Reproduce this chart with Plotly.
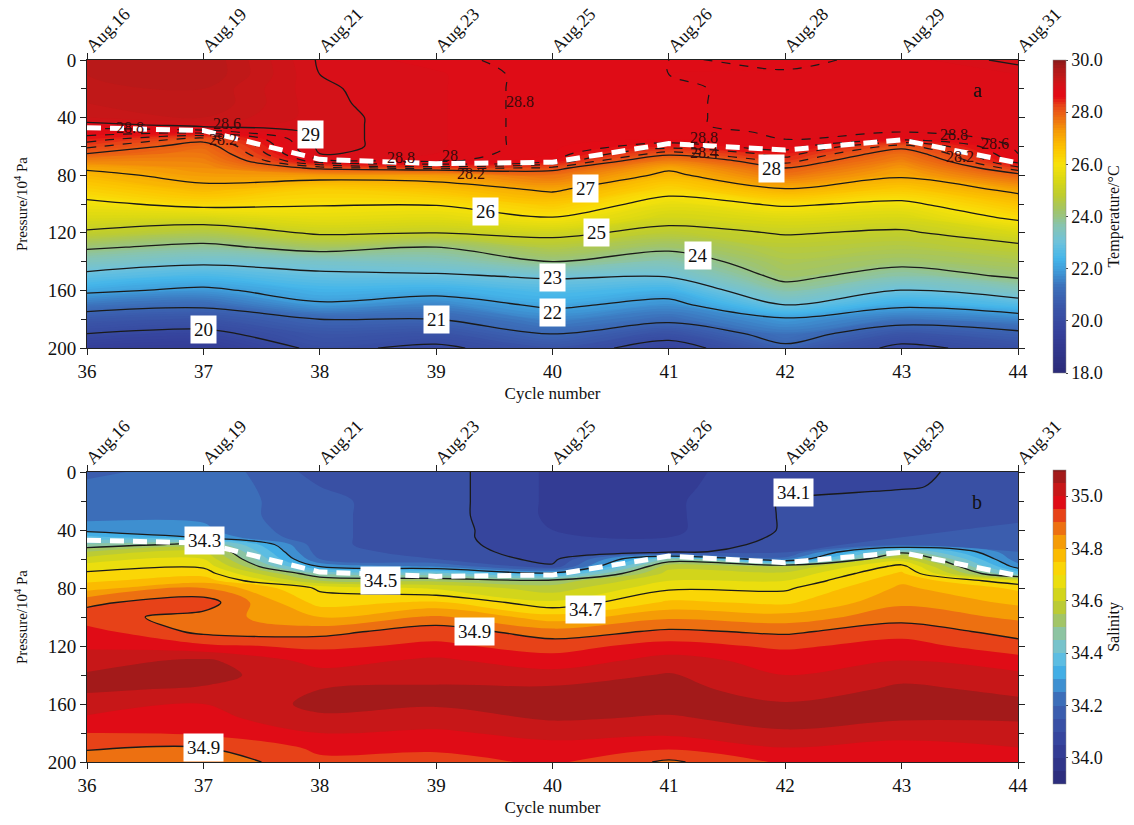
import plotly.graph_objects as go

# ---------------- data ----------------
cycles = [36, 37, 38, 39, 40, 41, 42, 43, 44]
dates = ["Aug.16", "Aug.19", "Aug.21", "Aug.23", "Aug.25", "Aug.26", "Aug.28", "Aug.29", "Aug.31"]
depths = [0, 10, 20, 30, 40, 45, 50, 55, 60, 65, 70, 75, 80,
          90, 100, 110, 120, 130, 140, 150, 160, 170, 180, 190, 200]

# temperature (deg C) profiles per cycle, one value per depth
t36 = [29.4, 29.4, 29.4, 29.3, 29.2, 28.9, 28.7, 28.5, 28.25, 28.0, 27.55, 27.1, 26.8,
       26.35, 25.85, 25.4, 24.9, 24.1, 23.45, 22.8, 22.15, 21.35, 20.6, 20.0, 19.4]
t37 = [29.5, 29.5, 29.4, 29.4, 29.3, 29.1, 28.7, 28.1, 27.85, 27.7, 27.55, 27.4, 27.25,
       26.8, 26.2, 25.35, 24.55, 23.8, 23.15, 22.5, 21.85, 21.15, 20.45, 19.8, 19.3]
t38 = [28.98, 29.0, 29.02, 29.03, 29.05, 29.05, 29.05, 29.05, 29.05, 29.0, 28.75, 28.1, 27.3,
       26.4, 26.05, 25.65, 25.1, 24.3, 23.3, 22.85, 22.35, 21.9, 21.0, 20.5, 20.15]
t39 = [28.85, 28.92, 28.92, 28.92, 28.92, 28.92, 28.92, 28.92, 28.92, 28.9, 28.85, 28.3, 27.3,
       26.65, 26.05, 25.55, 25.0, 24.0, 23.45, 22.9, 22.25, 21.6, 21.0, 20.4, 19.85]
t40 = [28.72, 28.72, 28.72, 28.72, 28.72, 28.72, 28.72, 28.72, 28.72, 28.7, 28.6, 28.15, 27.75,
       27.1, 26.5, 25.95, 25.2, 24.6, 24.0, 23.1, 22.6, 22.15, 21.6, 21.05, 20.45]
t41 = [28.8, 28.8, 28.79, 28.79, 28.79, 28.79, 28.75, 28.7, 28.5, 28.1, 27.6, 27.1, 26.85,
       26.25, 25.7, 25.25, 24.75, 24.15, 23.6, 23.05, 22.35, 21.75, 21.2, 20.35, 19.6]
t42 = [28.76, 28.82, 28.82, 28.82, 28.82, 28.82, 28.82, 28.8, 28.7, 28.5, 28.3, 28.0, 27.7,
       26.95, 26.1, 25.5, 25.05, 24.7, 24.45, 24.2, 23.7, 23.0, 21.9, 21.35, 20.85]
t43 = [28.85, 28.85, 28.85, 28.85, 28.85, 28.85, 28.8, 28.65, 28.1, 27.8, 27.55, 27.3, 27.1,
       26.5, 25.85, 25.35, 24.9, 24.55, 24.2, 23.65, 22.95, 22.15, 21.35, 20.5, 19.8]
t44 = [29.05, 28.9, 28.85, 28.85, 28.85, 28.85, 28.85, 28.85, 28.85, 28.8, 28.7, 28.35, 27.9,
       27.15, 26.6, 26.1, 25.4, 24.85, 24.45, 24.1, 23.45, 22.6, 21.6, 20.85, 20.3]

# salinity profiles per cycle
s36 = [34.18, 34.22, 34.22, 34.23, 34.28, 34.37, 34.46, 34.55, 34.62, 34.67, 34.71, 34.74, 34.78,
       34.89, 34.92, 34.97, 34.99, 35.03, 35.055, 35.055, 35.035, 34.99, 34.95, 34.91, 34.86]
s37 = [34.24, 34.24, 34.24, 34.24, 34.26, 34.29, 34.52, 34.6, 34.65, 34.69, 34.73, 34.78, 34.85,
       34.93, 34.88, 34.885, 34.96, 35.06, 35.065, 35.045, 35.0, 34.98, 34.96, 34.9, 34.86]
s38 = [34.13, 34.15, 34.16, 34.16, 34.16, 34.16, 34.16, 34.17, 34.2, 34.29, 34.45, 34.55, 34.69,
       34.73, 34.8, 34.88, 34.94, 34.98, 35.02, 35.05, 35.065, 35.04, 35.0, 34.96, 34.94]
s39 = [34.125, 34.125, 34.125, 34.125, 34.125, 34.125, 34.125, 34.13, 34.15, 34.24, 34.42, 34.54, 34.64,
       34.76, 34.86, 34.93, 34.96, 35.01, 35.04, 35.055, 35.055, 35.03, 34.99, 34.96, 34.93]
s40 = [34.04, 34.04, 34.04, 34.04, 34.05, 34.05, 34.06, 34.07, 34.08, 34.11, 34.32, 34.52, 34.57,
       34.66, 34.77, 34.87, 34.93, 34.97, 35.02, 35.06, 35.07, 35.055, 35.02, 34.98, 34.96]
s41 = [34.04, 34.04, 34.04, 34.04, 34.04, 34.05, 34.06, 34.08, 34.45, 34.58, 34.62, 34.65, 34.69,
       34.76, 34.84, 34.91, 34.97, 35.02, 35.055, 35.07, 35.065, 35.045, 35.01, 34.96, 34.89]
s42 = [34.07, 34.08, 34.105, 34.105, 34.105, 34.11, 34.12, 34.14, 34.22, 34.55, 34.61, 34.65, 34.69,
       34.74, 34.82, 34.89, 34.94, 34.98, 35.0, 35.02, 35.055, 35.065, 35.045, 35.0, 34.96]
s43 = [34.09, 34.095, 34.12, 34.13, 34.14, 34.15, 34.18, 34.48, 34.62, 34.72, 34.76, 34.79, 34.81,
       34.84, 34.88, 34.93, 34.97, 35.0, 35.035, 35.06, 35.065, 35.055, 35.02, 34.98, 34.95]
s44 = [34.12, 34.12, 34.13, 34.14, 34.16, 34.17, 34.18, 34.2, 34.22, 34.27, 34.38, 34.66, 34.74,
       34.79, 34.84, 34.88, 34.92, 34.97, 35.01, 35.04, 35.06, 35.055, 35.03, 35.0, 34.97]

# mixed layer depth (white dashed line)
mld = [47, 49, 69, 72, 71, 58, 62.5, 55.5, 71.5]

# boxed contour labels: (cycle, pressure, text)
t_box_labels = [(37.92, 52, "29"), (41.88, 75, "28"), (40.28, 89, "27"), (39.42, 105, "26"),
                (40.38, 120, "25"), (41.25, 136, "24"), (40.0, 151, "23"), (40.0, 175, "22"),
                (39.0, 180, "21"), (37.0, 187, "20")]
t_plain_labels = [(36.37, 47, "28.8"), (37.2, 44, "28.6"), (37.17, 55, "28.2"), (38.7, 68, "28.8"),
                  (39.72, 29, "28.8"), (39.12, 66, "28"), (39.3, 79, "28.2"), (41.3, 54, "28.8"),
                  (41.3, 64, "28.4"), (43.45, 52, "28.8"), (43.8, 58, "28.6"), (43.5, 67, "28.2")]
s_box_labels = [(37.01, 47, "34.3"), (38.52, 74.5, "34.5"), (40.28, 95, "34.7"),
                (39.33, 110, "34.9"), (37.0, 190, "34.9"), (42.07, 14, "34.1")]

# ---------------- styling ----------------
FONT = "Liberation Serif"
cscale_stops = [
    (18.0, "#2b2a78"), (19.5, "#35409a"), (20.5, "#3a55a8"), (21.3, "#3c70ba"),
    (21.9, "#3f9ad8"), (22.4, "#44b6ea"), (23.0, "#6ec2dc"), (23.6, "#86c4b4"),
    (24.2, "#a0c46c"), (24.8, "#bdcc30"), (25.4, "#d9d814"), (26.0, "#f8e20a"),
    (26.6, "#fcc400"), (27.2, "#f6a005"), (27.7, "#ee7410"), (28.2, "#e84a18"),
    (28.6, "#e30a14"), (28.9, "#dc0e18"), (29.3, "#c41818"), (29.7, "#a81a1a"),
    (30.0, "#8c1a1a")]
cscale = [[(v - 18.0) / 12.0, c] for v, c in cscale_stops]

temp = [list(r) for r in zip(t36, t37, t38, t39, t40, t41, t42, t43, t44)]
sal = [list(r) for r in zip(s36, s37, s38, s39, s40, s41, s42, s43, s44)]

fig = go.Figure()

# --- temperature panel ---
fig.add_trace(go.Contour(
    x=cycles, y=depths, z=temp, xaxis="x", yaxis="y",
    zmin=18, zmax=30, zauto=False, colorscale=cscale,
    contours=dict(coloring="fill", start=18, end=30, size=0.1, showlines=False),
    line=dict(width=0), hoverinfo="skip",
    colorbar=dict(x=1.0376, xanchor="left", xpad=0, thickness=13,
                  lenmode="pixels", len=313, y=1.0, yanchor="top", ypad=0,
                  tick0=18, dtick=2, tickformat=".1f", ticks="outside", ticklen=2,
                  outlinewidth=0.5, outlinecolor="#888",
                  tickfont=dict(family=FONT, size=18, color="#111"),
                  title=dict(text="Temperature/°C", side="right",
                             font=dict(family=FONT, size=16, color="#111")))))
fig.add_trace(go.Contour(
    x=cycles, y=depths, z=temp, xaxis="x", yaxis="y", showscale=False,
    contours=dict(coloring="none", start=20, end=29, size=1),
    line=dict(color="#1a1a1a", width=1.3), hoverinfo="skip"))
fig.add_trace(go.Contour(
    x=cycles, y=depths, z=temp, xaxis="x", yaxis="y", showscale=False,
    contours=dict(coloring="none", start=28.2, end=28.8, size=0.2),
    line=dict(color="#1a1a1a", width=1.2, dash="dash"), hoverinfo="skip"))
fig.add_trace(go.Scatter(
    x=cycles, y=mld, xaxis="x", yaxis="y", mode="lines", hoverinfo="skip",
    line=dict(color="white", width=5, dash="14px,9px"), showlegend=False))
fig.add_trace(go.Scatter(x=cycles, y=[None] * len(cycles), xaxis="x3", yaxis="y",
                         mode="lines", showlegend=False, hoverinfo="skip"))

# --- salinity panel ---
fig.add_trace(go.Contour(
    x=cycles, y=depths, z=sal, xaxis="x2", yaxis="y2",
    zmin=33.9, zmax=35.1, zauto=False, colorscale=cscale,
    contours=dict(coloring="fill", start=33.9, end=35.1, size=0.05, showlines=False),
    line=dict(width=0), hoverinfo="skip",
    colorbar=dict(x=1.0376, xanchor="left", xpad=0, thickness=13,
                  lenmode="pixels", len=314, y=0.416, yanchor="top", ypad=0,
                  tick0=34.0, dtick=0.2, tickformat=".1f", ticks="outside", ticklen=2,
                  outlinewidth=0.5, outlinecolor="#888",
                  tickfont=dict(family=FONT, size=18, color="#111"),
                  title=dict(text="Salinity", side="right",
                             font=dict(family=FONT, size=16, color="#111")))))
fig.add_trace(go.Contour(
    x=cycles, y=depths, z=sal, xaxis="x2", yaxis="y2", showscale=False,
    contours=dict(coloring="none", start=34.1, end=34.9, size=0.2),
    line=dict(color="#1a1a1a", width=1.3), hoverinfo="skip"))
fig.add_trace(go.Scatter(
    x=cycles, y=mld, xaxis="x2", yaxis="y2", mode="lines", hoverinfo="skip",
    line=dict(color="white", width=5, dash="14px,9px"), showlegend=False))
fig.add_trace(go.Scatter(x=cycles, y=[None] * len(cycles), xaxis="x4", yaxis="y2",
                         mode="lines", showlegend=False, hoverinfo="skip"))

tickfont = dict(family=FONT, size=19, color="#111")
titlefont = dict(family=FONT, size=17, color="#111")
ydict = dict(range=[200, 0], tickvals=[0, 40, 80, 120, 160, 200], ticks="outside", ticklen=6,
             tickcolor="#222", showline=True, linecolor="#222", linewidth=1, mirror="ticks",
             minor=dict(tickvals=[20, 60, 100, 140, 180], ticks="outside", ticklen=5, tickcolor="#222"),
             showgrid=False, zeroline=False, tickfont=tickfont, automargin=False,
             title=dict(text="Pressure/10<sup>4</sup> Pa", font=dict(family=FONT, size=15, color="#111"),
                        standoff=16))
xdict = dict(range=[36, 44], tickvals=cycles, ticks="outside", ticklen=6, tickcolor="#222",
             showline=True, linecolor="#222", linewidth=1, showgrid=False, zeroline=False,
             tickfont=tickfont, automargin=False,
             title=dict(text="Cycle number", font=titlefont, standoff=6))
xtop = dict(range=[36, 44], tickvals=cycles, ticktext=dates, side="top", ticks="outside",
            ticklen=6, tickcolor="#222", tickangle=-45, showline=True, linecolor="#222",
            linewidth=1, showgrid=False, zeroline=False, automargin=False,
            ticklabelstandoff=-10,
            tickfont=dict(family=FONT, size=18, color="#111"))

annotations = []
for cx, cy, txt in t_box_labels:
    annotations.append(dict(x=cx, y=cy, xref="x", yref="y", text=txt, showarrow=False,
                            bgcolor="white", borderpad=3,
                            font=dict(family=FONT, size=19, color="#111")))
for cx, cy, txt in t_plain_labels:
    annotations.append(dict(x=cx, y=cy, xref="x", yref="y", text=txt, showarrow=False,
                            font=dict(family=FONT, size=16, color="#3a0a0a")))
for cx, cy, txt in s_box_labels:
    annotations.append(dict(x=cx, y=cy, xref="x2", yref="y2", text=txt, showarrow=False,
                            bgcolor="white", borderpad=3,
                            font=dict(family=FONT, size=19, color="#111")))
annotations.append(dict(x=43.65, y=21, xref="x", yref="y", text="a", showarrow=False,
                        font=dict(family=FONT, size=20, color="#111")))
annotations.append(dict(x=43.65, y=21, xref="x2", yref="y2", text="b", showarrow=False,
                        font=dict(family=FONT, size=20, color="#111")))

fig.update_layout(
    width=1134, height=825,
    margin=dict(l=87, r=116, t=60, b=63, autoexpand=False),
    paper_bgcolor="white", plot_bgcolor="white",
    showlegend=False,
    font=dict(family=FONT, color="#111"),
    xaxis=dict(xdict, domain=[0, 1], anchor="y"),
    yaxis=dict(ydict, domain=[0.5897, 1.0], anchor="x"),
    xaxis2=dict(xdict, domain=[0, 1], anchor="y2"),
    yaxis2=dict(ydict, domain=[0.0, 0.4131], anchor="x2"),
    xaxis3=dict(xtop, overlaying="x", anchor="y"),
    xaxis4=dict(xtop, overlaying="x2", anchor="y2"),
    annotations=annotations,
)

fig.write_html("out.html", config={"displayModeBar": False},
               post_script="document.body.style.margin='0px';document.body.style.padding='0px';")
